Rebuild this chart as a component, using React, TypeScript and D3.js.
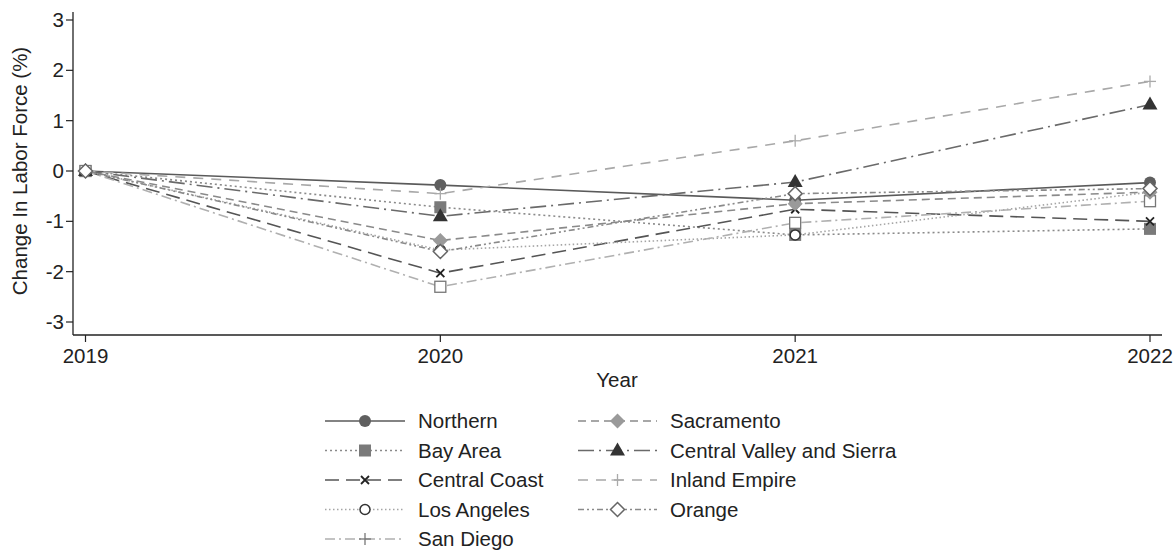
import React from "react";
import * as d3 from "d3";

const years = [2019, 2020, 2021, 2022];
const yTicks = [-3, -2, -1, 0, 1, 2, 3];

const northern = [0, -0.28, -0.58, -0.23];
const bayArea = [0, -0.72, -1.27, -1.15];
const centralCoast = [0, -2.03, -0.76, -1.0];
const losAngeles = [0, -1.57, -1.27, -0.42];
const sanDiego = [0, -2.3, -1.03, -0.6];
const sacramento = [0, -1.38, -0.65, -0.42];
const centralValley = [0, -0.9, -0.22, 1.32];
const inlandEmpire = [0, -0.45, 0.6, 1.78];
const orange = [0, -1.6, -0.45, -0.35];

type Sym = "circle" | "square" | "x" | "ocircle" | "plus" | "diamond" | "triangle" | "odiamond" | "osquare";

interface Series {
  name: string;
  values: number[];
  color: string;
  markColor: string;
  dash: string;
  sym: Sym;
  legendSym: Sym;
}

const series: Series[] = [
  { name: "Northern", values: northern, color: "#5a5a5a", markColor: "#5f5f5f", dash: "", sym: "circle", legendSym: "circle" },
  { name: "Bay Area", values: bayArea, color: "#8a8a8a", markColor: "#7a7a7a", dash: "2,3", sym: "square", legendSym: "square" },
  { name: "Central Coast", values: centralCoast, color: "#555", markColor: "#222", dash: "14,7", sym: "x", legendSym: "x" },
  { name: "Los Angeles", values: losAngeles, color: "#a5a5a5", markColor: "#333", dash: "1.5,2.5", sym: "ocircle", legendSym: "ocircle" },
  { name: "San Diego", values: sanDiego, color: "#b0b0b0", markColor: "#777", dash: "10,4,2,4", sym: "osquare", legendSym: "plus" },
  { name: "Sacramento", values: sacramento, color: "#8a8a8a", markColor: "#9a9a9a", dash: "8,5", sym: "diamond", legendSym: "diamond" },
  { name: "Central Valley and Sierra", values: centralValley, color: "#6a6a6a", markColor: "#333", dash: "16,5,2,5", sym: "triangle", legendSym: "triangle" },
  { name: "Inland Empire", values: inlandEmpire, color: "#a8a8a8", markColor: "#aaa", dash: "10,8", sym: "plus", legendSym: "plus" },
  { name: "Orange", values: orange, color: "#8a8a8a", markColor: "#666", dash: "6,3,2,3,2,3", sym: "odiamond", legendSym: "odiamond" },
];

const legendCol1 = ["Northern", "Bay Area", "Central Coast", "Los Angeles", "San Diego"];
const legendCol2 = ["Sacramento", "Central Valley and Sierra", "Inland Empire", "Orange"];

function Marker({ sym, x, y, color }: { sym: Sym; x: number; y: number; color: string }) {
  const r = 6;
  switch (sym) {
    case "circle":
      return <circle cx={x} cy={y} r={r} fill={color} />;
    case "square":
      return <rect x={x - r} y={y - r} width={2 * r} height={2 * r} fill={color} />;
    case "osquare":
      return <rect x={x - 5.5} y={y - 5.5} width={11} height={11} fill="white" stroke={color} strokeWidth={1.3} />;
    case "ocircle":
      return <circle cx={x} cy={y} r={5} fill="white" stroke={color} strokeWidth={1.5} />;
    case "x":
      return (
        <g stroke={color} strokeWidth={1.8}>
          <line x1={x - 4} y1={y - 4} x2={x + 4} y2={y + 4} />
          <line x1={x - 4} y1={y + 4} x2={x + 4} y2={y - 4} />
        </g>
      );
    case "plus":
      return (
        <g stroke={color} strokeWidth={1.3}>
          <line x1={x - 6} y1={y} x2={x + 6} y2={y} />
          <line x1={x} y1={y - 6} x2={x} y2={y + 6} />
        </g>
      );
    case "diamond":
      return <path d={`M${x},${y - 7.5}L${x + 7.5},${y}L${x},${y + 7.5}L${x - 7.5},${y}Z`} fill={color} />;
    case "odiamond":
      return <path d={`M${x},${y - 7}L${x + 7},${y}L${x},${y + 7}L${x - 7},${y}Z`} fill="white" stroke={color} strokeWidth={1.5} />;
    case "triangle":
      return <path d={`M${x},${y - 8}L${x + 7.5},${y + 5}L${x - 7.5},${y + 5}Z`} fill={color} />;
  }
  return null;
}

export default function App() {
  const W = 1175;
  const H = 552;
  const x = d3.scaleLinear().domain([2019, 2022]).range([85.5, 1150]);
  const y = d3.scaleLinear().domain([-3, 3]).range([322, 20]);
  const axisX = 73;
  const axisY = 335;
  const font = "'Liberation Sans', Arial, Helvetica, sans-serif";
  const fs = 20.5;
  const line = d3
    .line<number>()
    .x((_, i) => x(years[i]))
    .y((v) => y(v));

  const legendRow = (i: number) => 421 + i * 29.5;
  const byName = (n: string) => series.find((s) => s.name === n)!;

  const legendItem = (name: string, i: number, x0: number, x1: number, tx: number) => {
    const s = byName(name);
    const ly = legendRow(i);
    return (
      <g key={name}>
        <line x1={x0} x2={x1} y1={ly} y2={ly} stroke={s.color} strokeWidth={1.5} strokeDasharray={s.dash || undefined} />
        <Marker sym={s.legendSym} x={(x0 + x1) / 2} y={ly} color={s.markColor} />
        <text x={tx} y={ly + 7} fontSize={fs} fill="#222" fontFamily={font}>
          {name}
        </text>
      </g>
    );
  };

  return (
    <svg width={W} height={H} style={{ position: "absolute", left: 0, top: 0, background: "white" }}>
      <rect width={W} height={H} fill="white" />
      {/* axes */}
      <line x1={axisX} x2={axisX} y1={12} y2={axisY} stroke="#222" strokeWidth={1.3} />
      <line x1={axisX} x2={1162} y1={axisY} y2={axisY} stroke="#222" strokeWidth={1.3} />
      {yTicks.map((t) => (
        <g key={t}>
          <line x1={axisX - 7} x2={axisX} y1={y(t)} y2={y(t)} stroke="#222" strokeWidth={1.2} />
          <text x={axisX - 9} y={y(t) + 7} textAnchor="end" fontSize={fs} fill="#222" fontFamily={font}>
            {t}
          </text>
        </g>
      ))}
      {years.map((yr) => (
        <g key={yr}>
          <line x1={x(yr)} x2={x(yr)} y1={axisY} y2={axisY + 7} stroke="#222" strokeWidth={1.2} />
          <text x={x(yr)} y={axisY + 28} textAnchor="middle" fontSize={fs} fill="#222" fontFamily={font}>
            {yr}
          </text>
        </g>
      ))}
      <text x={617} y={387} textAnchor="middle" fontSize={fs} fill="#222" fontFamily={font}>
        Year
      </text>
      <text
        transform={`translate(27,${y(0)}) rotate(-90)`}
        textAnchor="middle"
        fontSize={fs}
        fill="#222"
        fontFamily={font}
      >
        Change In Labor Force (%)
      </text>
      {/* lines */}
      {series.map((s) => (
        <path
          key={s.name}
          d={line(s.values) || ""}
          fill="none"
          stroke={s.color}
          strokeWidth={1.6}
          strokeDasharray={s.dash || undefined}
        />
      ))}
      {series.map((s) => (
        <g key={s.name + "m"}>
          {s.values.map((v, i) => (
            <Marker key={i} sym={s.sym} x={x(years[i])} y={y(v)} color={s.markColor} />
          ))}
        </g>
      ))}
      {/* legend */}
      {legendCol1.map((n, i) => legendItem(n, i, 325, 405, 418))}
      {legendCol2.map((n, i) => legendItem(n, i, 578, 657, 670))}
    </svg>
  );
}
